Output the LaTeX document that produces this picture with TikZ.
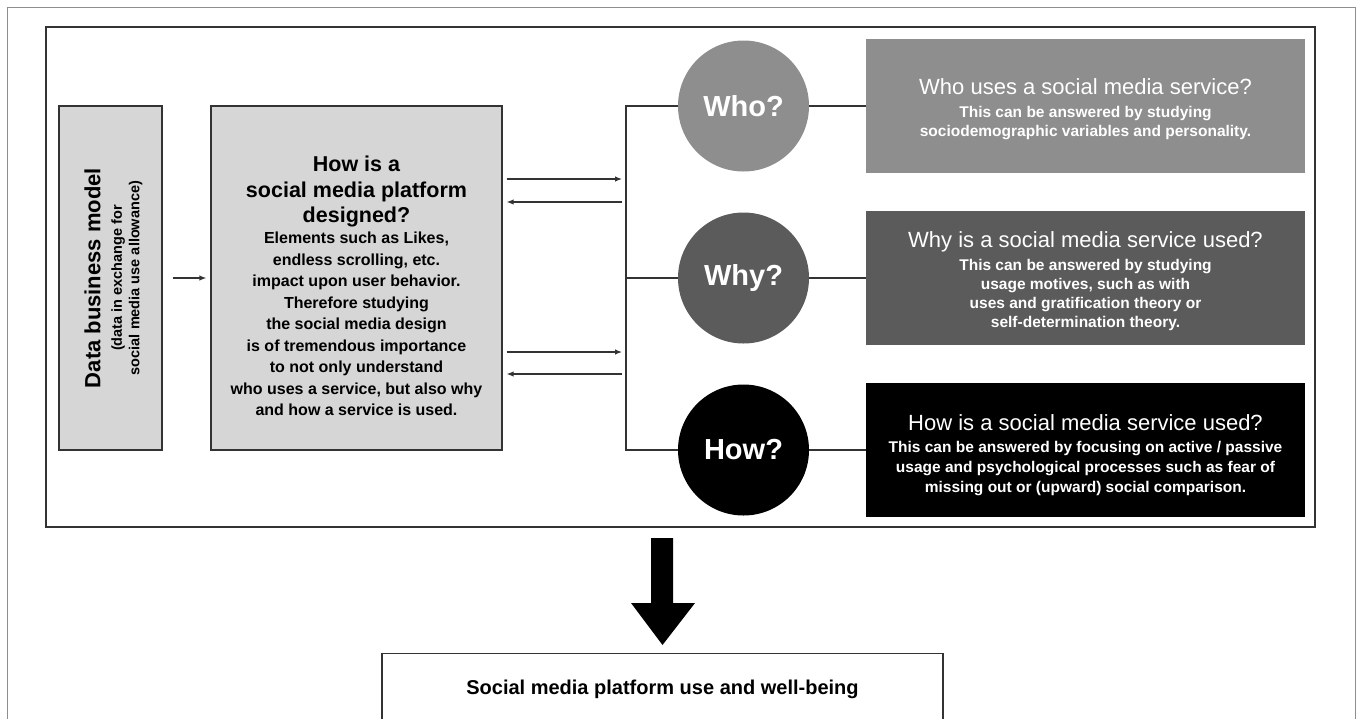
\documentclass[tikz,border=0pt]{standalone}
\usepackage{fontspec}
\setmainfont{Liberation Sans}
\usetikzlibrary{arrows.meta}

\definecolor{lightbox}{HTML}{D6D6D6}
\definecolor{whogrey}{HTML}{8E8E8E}
\definecolor{whygrey}{HTML}{5B5B5B}
\definecolor{framegrey}{HTML}{333333}

\begin{document}
\begin{tikzpicture}[x=1pt,y=-1pt,>={Latex[length=7pt,width=5.5pt]},
  greybox/.style={rectangle,draw=framegrey,line width=1.3pt,fill=lightbox,align=center,inner sep=0pt},
  qcircle/.style={circle,minimum size=131pt,inner sep=0pt,text=white,font=\bfseries\fontsize{29}{32}\selectfont},
  answerbox/.style={rectangle,minimum width=439pt,minimum height=134pt,inner sep=0pt,text=white,align=center,font=\bfseries\fontsize{15.5}{19}\selectfont},
  arr/.style={->,line width=1.2pt,draw=framegrey}]

    \useasboundingbox (0,0) rectangle (1357,718);
    \clip (0,0) rectangle (1357,718);

    % frames
    \draw[whogrey, line width=1pt] (7,7) rectangle (1355,760);
    \draw[framegrey, line width=1.5pt] (46,27) rectangle (1315,527);

    % left part
    \node[greybox, rotate=90, minimum width=344pt, minimum height=103pt,
      font=\bfseries\fontsize{14.5}{17.5}\selectfont] (data) at (110.5,278)
      {\mbox{}\\[4.5pt]
       {\fontsize{22}{26}\selectfont Data business model}\\[4pt]
       (data in exchange for\\
       social media use allowance)};

    \node[greybox, minimum width=291pt, minimum height=344pt,
      font=\bfseries\fontsize{16}{21.5}\selectfont] (design) at (356.5,278)
      {\mbox{}\\[10pt]
       {\fontsize{21.5}{25.5}\selectfont How is a}\\[5pt]
       {\fontsize{21.5}{25.5}\selectfont social media platform}\\[3pt]
       {\fontsize{21.5}{25.5}\selectfont designed?}\\[0pt]
       Elements such as Likes,\\
       endless scrolling, etc.\\
       impact upon user behavior.\\
       Therefore studying\\
       the social media design\\
       is of tremendous importance\\
       to not only understand\\
       who uses a service, but also why\\
       and how a service is used.};

    \draw[arr, shorten <=10pt, shorten >=4pt] (data.south) -- (design.west);

    % questions
    \node[qcircle, fill=whogrey] (who) at (743.5,106) {Who?};
    \node[qcircle, fill=whygrey] (why) at (743.5,278) {Why?};
    \node[qcircle, fill=black] (how) at (743.5,450) {How?};

    \node[answerbox, fill=whogrey] (whobox) at (1085.5,106)
      {\mbox{}\\[3pt]
       {\mdseries\fontsize{22}{25}\selectfont Who uses a social media service?}\\[4pt]
       This can be answered by studying\\
       sociodemographic variables and personality.};
    \node[answerbox, fill=whygrey] (whybox) at (1085.5,278)
      {\mbox{}\\[3pt]
       {\mdseries\fontsize{22}{25}\selectfont Why is a social media service used?}\\[4pt]
       This can be answered by studying\\
       usage motives, such as with\\
       uses and gratification theory or\\
       self-determination theory.};
    \node[answerbox, fill=black] (howbox) at (1085.5,450)
      {\mbox{}\\[7pt]
       {\mdseries\fontsize{22}{25}\selectfont How is a social media service used?}\\[3pt]
       This can be answered by focusing on active / passive\\[1pt]
       usage and psychological processes such as fear of\\[1pt]
       missing out or (upward) social comparison.};

    % bracket
    \coordinate (btop) at (626,106);
    \coordinate (bbot) at (626,450);
    \draw[framegrey, line width=1.1pt] (who.west) -- (btop) -- (bbot) -- (how.west);
    \draw[framegrey, line width=1.1pt] (why.west) -- (why.west -| btop);
    \draw[framegrey, line width=1.1pt] (who.east) -- (whobox.west);
    \draw[framegrey, line width=1.1pt] (why.east) -- (whybox.west);
    \draw[framegrey, line width=1.1pt] (how.east) -- (howbox.west);

    \coordinate (a1) at (626,179);
    \coordinate (a2) at (626,202);
    \coordinate (a3) at (626,352);
    \coordinate (a4) at (626,374);
    \draw[arr, shorten <=4pt, shorten >=4pt] (design.east |- a1) -- (a1);
    \draw[arr, shorten <=4pt, shorten >=4pt] (a2) -- (design.east |- a2);
    \draw[arr, shorten <=4pt, shorten >=4pt] (design.east |- a3) -- (a3);
    \draw[arr, shorten <=4pt, shorten >=4pt] (a4) -- (design.east |- a4);

    % outcome
    \node[draw=framegrey, line width=1.3pt, anchor=north, minimum width=561pt,
      inner xsep=0pt, inner ysep=27pt, text height=14pt, text depth=80pt,
      font=\bfseries\fontsize{20}{23}\selectfont] (wellbeing) at (662.5,653)
      {Social media platform use and well-being};
    \fill[black] (651,538) -- (673,538) -- (673,603) -- (695,603)
      -- (wellbeing.north |- 0,645) -- (631,603) -- (651,603) -- cycle;
\end{tikzpicture}
\end{document}
